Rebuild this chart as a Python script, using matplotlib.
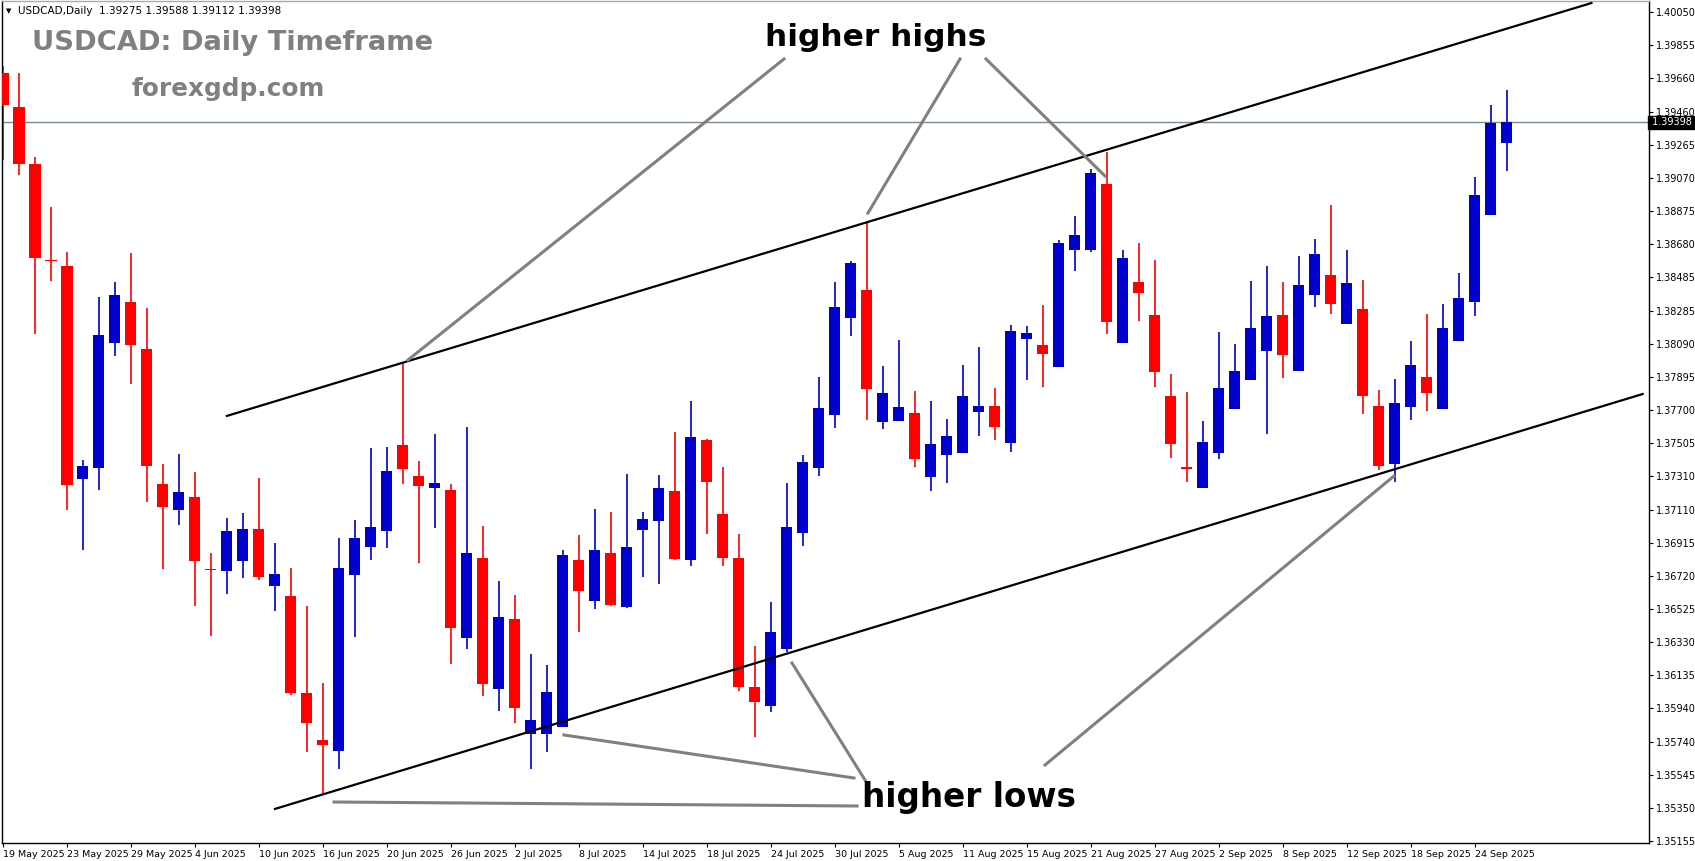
import numpy as np
import matplotlib
matplotlib.use("Agg")
import matplotlib.pyplot as plt

# daily candles, 19 May 2025 .. 26 Sep 2025 (open, high, low, close)
opens = [1.39689, 1.39489, 1.39152, 1.38586, 1.38551, 1.37294, 1.37359, 1.38096, 1.38338, 1.38061,
         1.37264, 1.37111, 1.37188, 1.36763, 1.36751, 1.36810, 1.36999, 1.36663, 1.36604, 1.36031,
         1.35754, 1.35689, 1.36728, 1.36893, 1.36987, 1.37495, 1.37312, 1.37241, 1.37229, 1.36356,
         1.36828, 1.36055, 1.36468, 1.35789, 1.35789, 1.35831, 1.36816, 1.36574, 1.36857, 1.36539,
         1.36993, 1.37046, 1.37223, 1.36816, 1.37524, 1.37087, 1.36828, 1.36067, 1.35955, 1.36291,
         1.36975, 1.37359, 1.37672, 1.38244, 1.38409, 1.37630, 1.37636, 1.37683, 1.37306, 1.37435,
         1.37447, 1.37689, 1.37725, 1.37506, 1.38120, 1.38085, 1.37955, 1.38645, 1.38645, 1.39034,
         1.38096, 1.38456, 1.38262, 1.37784, 1.37365, 1.37241, 1.37447, 1.37707, 1.37878, 1.38049,
         1.38262, 1.37931, 1.38380, 1.38498, 1.38208, 1.38297, 1.37725, 1.37382, 1.37719, 1.37896,
         1.37707, 1.38108, 1.38338, 1.38852, 1.39275]
highs = [1.39731, 1.39689, 1.39194, 1.38899, 1.38633, 1.37406, 1.38368, 1.38456, 1.38627, 1.38303,
         1.37382, 1.37441, 1.37335, 1.36857, 1.37064, 1.37093, 1.37300, 1.36916, 1.36769, 1.36545,
         1.36090, 1.36946, 1.37052, 1.37477, 1.37483, 1.37984, 1.37400, 1.37559, 1.37264, 1.37601,
         1.37017, 1.36692, 1.36610, 1.36261, 1.36197, 1.36875, 1.36964, 1.37117, 1.37099, 1.37323,
         1.37099, 1.37318, 1.37571, 1.37754, 1.37530, 1.37365, 1.36969, 1.36309, 1.36568, 1.37270,
         1.37435, 1.37896, 1.38456, 1.38580, 1.38804, 1.37961, 1.38114, 1.37813, 1.37754, 1.37648,
         1.37967, 1.38073, 1.37831, 1.38203, 1.38197, 1.38321, 1.38704, 1.38846, 1.39123, 1.39223,
         1.38645, 1.38686, 1.38586, 1.37914, 1.37807, 1.37636, 1.38161, 1.38090, 1.38462, 1.38551,
         1.38456, 1.38610, 1.38710, 1.38911, 1.38645, 1.38468, 1.37819, 1.37884, 1.38108, 1.38267,
         1.38326, 1.38509, 1.39076, 1.39501, 1.39588]
lows = [1.39176, 1.39090, 1.38149, 1.38462, 1.37111, 1.36875, 1.37229, 1.38020, 1.37854, 1.37158,
        1.36763, 1.37023, 1.36545, 1.36368, 1.36615, 1.36710, 1.36698, 1.36515, 1.36020, 1.35683,
        1.35430, 1.35583, 1.36362, 1.36816, 1.36887, 1.37264, 1.36798, 1.37005, 1.36202, 1.36291,
        1.36014, 1.35925, 1.35854, 1.35583, 1.35683, 1.35831, 1.36391, 1.36527, 1.36545, 1.36533,
        1.36716, 1.36674, 1.36816, 1.36781, 1.36969, 1.36781, 1.36043, 1.35772, 1.35919, 1.36273,
        1.36899, 1.37312, 1.37595, 1.38138, 1.37642, 1.37589, 1.37636, 1.37365, 1.37223, 1.37270,
        1.37447, 1.37548, 1.37524, 1.37453, 1.37878, 1.37837, 1.37955, 1.38521, 1.38633, 1.38149,
        1.38096, 1.38226, 1.37837, 1.37418, 1.37276, 1.37241, 1.37412, 1.37707, 1.37878, 1.37559,
        1.37890, 1.37931, 1.38309, 1.38267, 1.38208, 1.37677, 1.37347, 1.37276, 1.37642, 1.37695,
        1.37707, 1.38108, 1.38256, 1.38852, 1.39112]
closes = [1.39501, 1.39152, 1.38598, 1.38580, 1.37258, 1.37371, 1.38144, 1.38380, 1.38085, 1.37371,
          1.37129, 1.37217, 1.36810, 1.36757, 1.36987, 1.36999, 1.36716, 1.36733, 1.36031, 1.35854,
          1.35725, 1.36769, 1.36946, 1.37011, 1.37341, 1.37353, 1.37253, 1.37270, 1.36415, 1.36857,
          1.36084, 1.36480, 1.35943, 1.35872, 1.36037, 1.36846, 1.36633, 1.36875, 1.36551, 1.36893,
          1.37058, 1.37241, 1.36822, 1.37542, 1.37276, 1.36828, 1.36067, 1.35978, 1.36391, 1.37011,
          1.37394, 1.37713, 1.38309, 1.38568, 1.37825, 1.37801, 1.37719, 1.37412, 1.37500, 1.37548,
          1.37784, 1.37725, 1.37601, 1.38167, 1.38155, 1.38031, 1.38686, 1.38734, 1.39099, 1.38220,
          1.38598, 1.38391, 1.37925, 1.37500, 1.37353, 1.37512, 1.37831, 1.37931, 1.38185, 1.38256,
          1.38026, 1.38439, 1.38621, 1.38326, 1.38450, 1.37784, 1.37371, 1.37742, 1.37967, 1.37801,
          1.38185, 1.38362, 1.38970, 1.39394, 1.39398]

date_labels = ["19 May 2025", "23 May 2025", "29 May 2025", "4 Jun 2025", "10 Jun 2025",
               "16 Jun 2025", "20 Jun 2025", "26 Jun 2025", "2 Jul 2025", "8 Jul 2025",
               "14 Jul 2025", "18 Jul 2025", "24 Jul 2025", "30 Jul 2025", "5 Aug 2025",
               "11 Aug 2025", "15 Aug 2025", "21 Aug 2025", "27 Aug 2025", "2 Sep 2025",
               "8 Sep 2025", "12 Sep 2025", "18 Sep 2025", "24 Sep 2025"]
price_ticks = [1.40050, 1.39855, 1.39660, 1.39460, 1.39265, 1.39070, 1.38875, 1.38680, 1.38485,
               1.38285, 1.38090, 1.37895, 1.37700, 1.37505, 1.37310, 1.37110, 1.36915, 1.36720,
               1.36525, 1.36330, 1.36135, 1.35940, 1.35740, 1.35545, 1.35350, 1.35155]
last_price = 1.39398

# hand-drawn channel (bar index, price)
upper_line = ([14.0, 99.3], [1.37666, 1.40102])
lower_line = ([17.0, 102.5], [1.35347, 1.37795])

W, H = 1695, 861
fig = plt.figure(figsize=(W / 100, H / 100), dpi=100)
ax = fig.add_axes([2 / W, (H - 843) / H, (1649 - 2) / W, (843 - 1) / H])

o = np.array(opens); h = np.array(highs); l = np.array(lows); c = np.array(closes)
x = np.arange(len(o))
up = c >= o
cols = np.where(up, "#0000CC", "#FF0000")
body_low = np.minimum(o, c)
body_h = np.maximum(np.abs(c - o), 0.00004)

ax.vlines(x, l, h, colors=cols, linewidth=1.2, zorder=2)
ax.bar(x, body_h, bottom=body_low, width=0.69, color=cols, linewidth=0, zorder=3)

ax.axhline(last_price, color="#778899", linewidth=1, zorder=1)
ax.plot(*upper_line, color="black", linewidth=1.6, zorder=4)
ax.plot(*lower_line, color="black", linewidth=1.6, zorder=4)

ax.set_xlim(-0.0625, 102.9)
ax.set_ylim(1.35146, 1.40114)

ax.yaxis.tick_right()
ax.set_yticks(price_ticks)
ax.set_yticklabels([f"{t:.5f}" for t in price_ticks], fontsize=7)
ax.set_xticks(np.arange(0, len(date_labels) * 4, 4))
ax.set_xticklabels(date_labels, fontsize=6.8, ha="left")
ax.tick_params(axis="x", length=3, pad=2)
ax.tick_params(axis="y", length=3, pad=2)
for s in ax.spines.values():
    s.set_linewidth(1)
ax.spines["top"].set_color("#aaaaaa")

# current price tag
ax.text(1.0, last_price, " 1.39398 ", transform=ax.get_yaxis_transform(), fontsize=7,
        color="white", va="center", ha="left",
        bbox=dict(boxstyle="square,pad=0.15", fc="black", ec="black"))


def fx(px):
    return px / W


def fy(py):
    return 1 - py / H


fig.text(fx(6), fy(11), "\u25bc", fontsize=5, va="center", color="black")
fig.text(fx(18), fy(11), "USDCAD,Daily  1.39275 1.39588 1.39112 1.39398", fontsize=7.5, va="center")
fig.text(fx(32), fy(43), "USDCAD: Daily Timeframe", fontsize=19.7, fontweight="bold",
         color="#808080", va="center")
fig.text(fx(132), fy(89), "forexgdp.com", fontsize=17.8, fontweight="bold", color="#808080", va="center")

fig.text(fx(876), fy(38), "higher highs", fontsize=22.5, fontweight="bold", ha="center", va="center")
fig.text(fx(969), fy(798), "higher lows", fontsize=23.5, fontweight="bold", ha="center", va="center")

arrows = [((784, 59), (408, 360)), ((960, 59), (868, 213)), ((986, 59), (1105, 176)),
          ((865, 780), (792, 663)), ((854, 778), (564, 735)), ((1045, 765), (1394, 476)),
          ((857, 806), (334, 802))]
for (x0, y0), (x1, y1) in arrows:
    fig.add_artist(plt.Line2D([fx(x0), fx(x1)], [fy(y0), fy(y1)], color="#808080", linewidth=2.2))

fig.savefig("out.png", dpi=100)
